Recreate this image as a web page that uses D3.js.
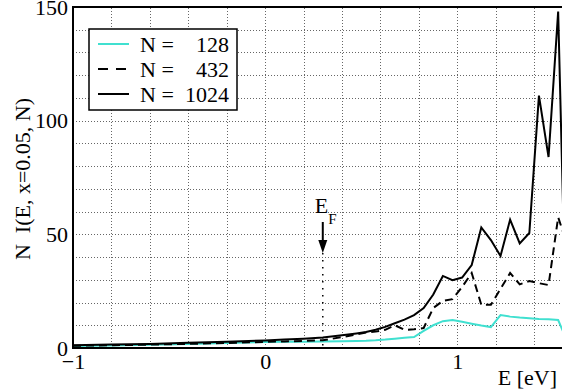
<!DOCTYPE html>
<html>
<head>
<meta charset="utf-8">
<script src="https://cdn.jsdelivr.net/npm/d3@7"></script>
<style>
    body { margin: 0; background: #fff; }
    .grid line { stroke: #666; stroke-width: 1; stroke-dasharray: 1,2; shape-rendering: crispEdges; }
    .grid path { display: none; }
    .axis path, .axis line { display: none; }
    .line { fill: none; stroke-width: 2; stroke-linejoin: miter; }
</style>
</head>
<body>
<div id="chart"></div>
<script>
// Energy grid (eV) and N*I(E, x=0.05, N)
const energies = [-1, -0.8, -0.6, -0.4, -0.2, 0, 0.1, 0.2, 0.3, 0.4, 0.475, 0.525, 0.575, 0.625,
    0.675, 0.725, 0.775, 0.825, 0.875, 0.925, 0.975, 1.025, 1.075, 1.125, 1.175, 1.225, 1.275,
    1.325, 1.375, 1.425, 1.475, 1.525, 1.56];
const n128 = [0.9, 1.1, 1.4, 1.8, 2.2, 2.6, 2.7, 2.8, 2.9, 3.0, 3.1, 3.2, 3.4, 3.7,
    4.1, 4.5, 4.8, 7.5, 10, 11.8, 12.3, 11.5, 10.7, 9.9, 9.2, 14.5, 13.8,
    13.4, 13.1, 12.8, 12.6, 12.3, 5.4];
const n432 = [1.0, 1.2, 1.5, 1.8, 2.2, 2.7, 2.9, 3.1, 3.4, 4.8, 6.0, 6.8, 7.2, 8.0,
    10.0, 8.0, 8.2, 8.8, 17.6, 20.7, 21.5, 26.8, 33, 19, 19, 26, 33,
    28, 29.5, 28.5, 27.7, 57.5, 48.6];
const n1024 = [1.2, 1.5, 1.8, 2.3, 2.8, 3.3, 3.7, 4.1, 4.6, 5.6, 6.4, 7.0, 8.0, 9.3,
    10.9, 12.5, 14.5, 17.6, 23.5, 31.7, 29.8, 31, 36.5, 53, 47.5, 40.5, 56.5,
    46, 50.6, 111, 84, 148, 30];

const seriesNums = ['128', '432', '1024'];
const xTicks = [-1, 0, 1];
const yTicks = [0, 50, 100, 150];
const fermiEnergy = 0.3;

const cfg = {
    'width': 562, 'height': 391,
    'left': 73, 'right': 562, 'top': 7, 'bottom': 348,
    'xdomain': [-1, 1.545], 'ydomain': [0, 150],
    'colors': ['#40e0d0', '#000', '#000'],
    'dashes': ['none', '8,5', 'none'],
    'font': "'Liberation Serif', 'DejaVu Serif', serif",
    'fontsize': 22
};

const svg = d3.select('#chart').append('svg')
    .attr('width', cfg.width)
    .attr('height', cfg.height);

const x = d3.scaleLinear().domain(cfg.xdomain).range([cfg.left, cfg.right]);
const y = d3.scaleLinear().domain(cfg.ydomain).range([cfg.bottom, cfg.top]);

svg.append('defs').append('clipPath').attr('id', 'clip')
    .append('rect')
    .attr('x', cfg.left).attr('y', cfg.top)
    .attr('width', cfg.right - cfg.left).attr('height', cfg.bottom - cfg.top);

// GRIDLINES (every 0.2 eV and every 10 units)
const xGridVals = d3.range(-4, 8).map(function(i){ return i * 0.2; });
const yGridVals = d3.range(1, 15).map(function(i){ return i * 10; });

svg.append('g').attr('class', 'grid')
    .attr('transform', 'translate(0,' + cfg.bottom + ')')
    .call(d3.axisBottom(x).tickValues(xGridVals).tickSize(-(cfg.bottom - cfg.top)).tickFormat(''));

svg.append('g').attr('class', 'grid')
    .attr('transform', 'translate(' + cfg.left + ',0)')
    .call(d3.axisLeft(y).tickValues(yGridVals).tickSize(-(cfg.right - cfg.left)).tickFormat(''));

// Fermi level marker
const ef = x(fermiEnergy);
svg.append('line')
    .attr('x1', ef).attr('x2', ef)
    .attr('y1', 253).attr('y2', cfg.bottom)
    .attr('stroke', '#000').attr('stroke-width', 1.5).attr('stroke-dasharray', '1.5,5.5');
svg.append('line')
    .attr('x1', ef).attr('x2', ef)
    .attr('y1', 222).attr('y2', 243)
    .attr('stroke', '#000').attr('stroke-width', 2);
svg.append('path')
    .attr('d', 'M' + (ef - 4.5) + ',240L' + (ef + 4.5) + ',240L' + ef + ',253Z')
    .attr('fill', '#000');
const efLabel = svg.append('text')
    .attr('x', ef - 8).attr('y', 213);
efLabel.append('tspan').text('E');
efLabel.append('tspan').attr('dy', 11).attr('class', 'sub').text('F');

// LINES
const line = d3.line()
    .x(function(d){ return x(d[0]); })
    .y(function(d){ return y(d[1]); });

const series = [n128, n432, n1024];
const lineg = svg.append('g').attr('clip-path', 'url(#clip)');
series.forEach(function(vals, i){
    lineg.append('path')
        .attr('class', 'line')
        .attr('d', line(energies.map(function(e, j){ return [e, vals[j]]; })))
        .style('stroke', cfg.colors[i])
        .style('stroke-dasharray', cfg.dashes[i]);
});

// FRAME
svg.append('path')
    .attr('d', 'M' + cfg.right + ',' + cfg.top + 'H' + cfg.left + 'V' + cfg.bottom + 'H' + cfg.right)
    .attr('fill', 'none').attr('stroke', '#000').attr('stroke-width', 2);

// AXIS labels
svg.append('g').attr('class', 'axis')
    .attr('transform', 'translate(0,' + cfg.bottom + ')')
    .call(d3.axisBottom(x).tickValues(xTicks).tickSize(0).tickPadding(5).tickFormat(d3.format('d')));

svg.append('g').attr('class', 'axis')
    .attr('transform', 'translate(' + cfg.left + ',0)')
    .call(d3.axisLeft(y).tickValues(yTicks).tickSize(0).tickPadding(5));

svg.append('text')
    .attr('x', 557).attr('y', 385)
    .attr('text-anchor', 'end')
    .text('E [eV]');

svg.append('text')
    .attr('transform', 'translate(30,179) rotate(-90)')
    .attr('text-anchor', 'middle')
    .text('N\u00a0\u00a0I(E, x=0.05, N)');

// LEGEND
const leg = svg.append('g');
leg.append('rect')
    .attr('x', 89).attr('y', 29).attr('width', 148).attr('height', 81)
    .attr('fill', '#fff').attr('stroke', '#000').attr('stroke-width', 1.5);
seriesNums.forEach(function(num, i){
    const ly = 44 + i * 25;
    leg.append('line')
        .attr('x1', 98).attr('x2', 129).attr('y1', ly).attr('y2', ly)
        .attr('stroke', cfg.colors[i]).attr('stroke-width', 2)
        .attr('stroke-dasharray', cfg.dashes[i] === 'none' ? null : '10,8');
    leg.append('text')
        .attr('x', 140).attr('y', ly + 8)
        .text('N =');
    leg.append('text')
        .attr('x', 229).attr('y', ly + 8)
        .attr('text-anchor', 'end')
        .text(num);
});

// one font for every text in the figure
svg.selectAll('text')
    .style('font-family', cfg.font)
    .style('font-size', cfg.fontsize + 'px')
    .style('fill', '#000');
svg.selectAll('tspan.sub').style('font-size', '15px');
</script>
</body>
</html>
